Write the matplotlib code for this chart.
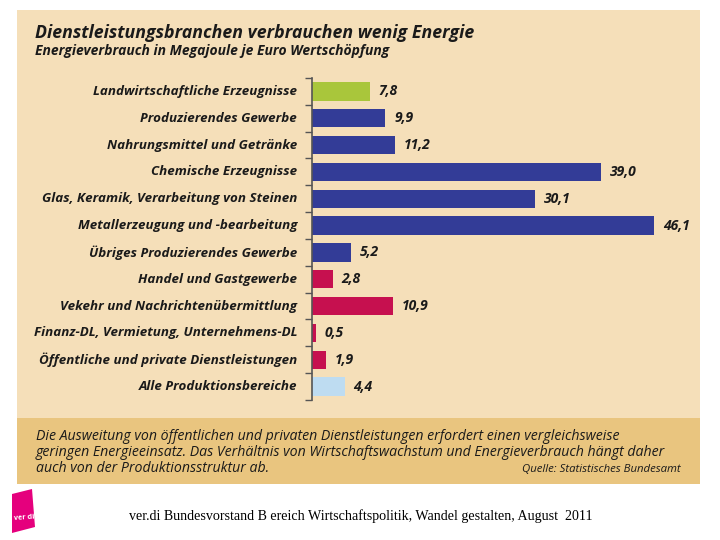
import matplotlib.pyplot as plt
from matplotlib.patches import Rectangle, Polygon
import numpy as np

categories = [
    "Landwirtschaftliche Erzeugnisse",
    "Produzierendes Gewerbe",
    "Nahrungsmittel und Getränke",
    "Chemische Erzeugnisse",
    "Glas, Keramik, Verarbeitung von Steinen",
    "Metallerzeugung und -bearbeitung",
    "Übriges Produzierendes Gewerbe",
    "Handel und Gastgewerbe",
    "Vekehr und Nachrichtenübermittlung",
    "Finanz-DL, Vermietung, Unternehmens-DL",
    "Öffentliche und private Dienstleistungen",
    "Alle Produktionsbereiche",
]
values = [7.8, 9.9, 11.2, 39.0, 30.1, 46.1, 5.2, 2.8, 10.9, 0.5, 1.9, 4.4]
groups = ["agri", "ind", "ind", "ind", "ind", "ind", "ind",
          "serv", "serv", "serv", "serv", "all"]
group_colors = {"agri": "#A9C63B", "ind": "#333C97", "serv": "#C6104F", "all": "#BEDCF1"}

title = "Dienstleistungsbranchen verbrauchen wenig Energie"
subtitle = "Energieverbrauch in Megajoule je Euro Wertschöpfung"
note_lines = [
    "Die Ausweitung von öffentlichen und privaten Dienstleistungen erfordert einen vergleichsweise",
    "geringen Energieeinsatz. Das Verhältnis von Wirtschaftswachstum und Energieverbrauch hängt daher",
    "auch von der Produktionsstruktur ab.",
]
source = "Quelle: Statistisches Bundesamt"
footer = "ver.di Bundesvorstand B ereich Wirtschaftspolitik, Wandel gestalten, August  2011"

W, H = 720, 540
FONT = "Open Sans"

fig = plt.figure(figsize=(W / 100, H / 100), dpi=100)
fig.patch.set_facecolor("white")


def px(x, y):
    return x / W, 1 - y / H


def rect(x0, y0, x1, y1, color, **kw):
    fig.add_artist(Rectangle((x0 / W, 1 - y1 / H), (x1 - x0) / W, (y1 - y0) / H,
                             transform=fig.transFigure, facecolor=color,
                             edgecolor="none", **kw))


# panel backgrounds
rect(17, 10, 700, 418, "#F5DFB9", zorder=0)
rect(17, 418, 700, 484, "#E9C57F", zorder=0)

# titles
fig.text(*px(35, 33), title, fontsize=12.8, fontweight="bold", style="italic",
         family=FONT, color="#1a1a1a", va="center")
fig.text(*px(35, 51), subtitle, fontsize=10.0, fontweight="bold", style="italic",
         family=FONT, color="#1a1a1a", va="center")

# chart
ax = fig.add_axes([312 / W, 1 - 400 / H, (700 - 312) / W, 322 / H])
ax.set_facecolor("none")
y = np.arange(len(values))
colors = [group_colors[g] for g in groups]
bars = ax.barh(y, values, height=0.68, color=colors)
ax.set_ylim(len(values) - 0.5, -0.5)
ax.set_xlim(0, 52.3)

for yi, v in zip(y, values):
    ax.text(v + 1.2, yi, f"{v:.1f}".replace(".", ","), va="center", ha="left",
            fontsize=10, fontweight="bold", style="italic", family=FONT, color="#1a1a1a")

for s in ["top", "right", "bottom"]:
    ax.spines[s].set_visible(False)
ax.spines["left"].set_color("#555555")
ax.spines["left"].set_linewidth(1.2)
ax.set_xticks([])
ax.set_yticks(np.arange(len(values) + 1) - 0.5)
ax.set_yticklabels([])
ax.tick_params(axis="y", direction="out", length=5, color="#555555", width=1)

for yi, lab in zip(y, categories):
    ax.text(-2.0, yi, lab, va="center", ha="right", fontsize=9.6, fontweight="bold",
            style="italic", family=FONT, color="#1a1a1a")

# note
for i, line in enumerate(note_lines):
    fig.text(*px(36, 436 + i * 16), line, fontsize=10.2, style="italic", family=FONT,
             color="#1a1a1a", va="center")
fig.text(*px(681, 469), source, fontsize=8.2, style="italic", family=FONT,
         color="#1a1a1a", va="center", ha="right")

# logo
logo_pts = [(12, 494), (32, 489), (35, 527), (12, 533)]
logo = Polygon([px(a, b) for a, b in logo_pts], closed=True, transform=fig.transFigure,
               facecolor="#E5007D", edgecolor="none")
fig.add_artist(logo)
fig.text(*px(24.5, 518), "ver di", fontsize=5.2, fontweight="bold", color="white",
         ha="center", va="center", family=FONT, rotation=4)

fig.text(*px(361, 516), footer, fontsize=10.1, family="Liberation Serif",
         color="black", ha="center", va="center")

fig.savefig("out.png", dpi=100)
